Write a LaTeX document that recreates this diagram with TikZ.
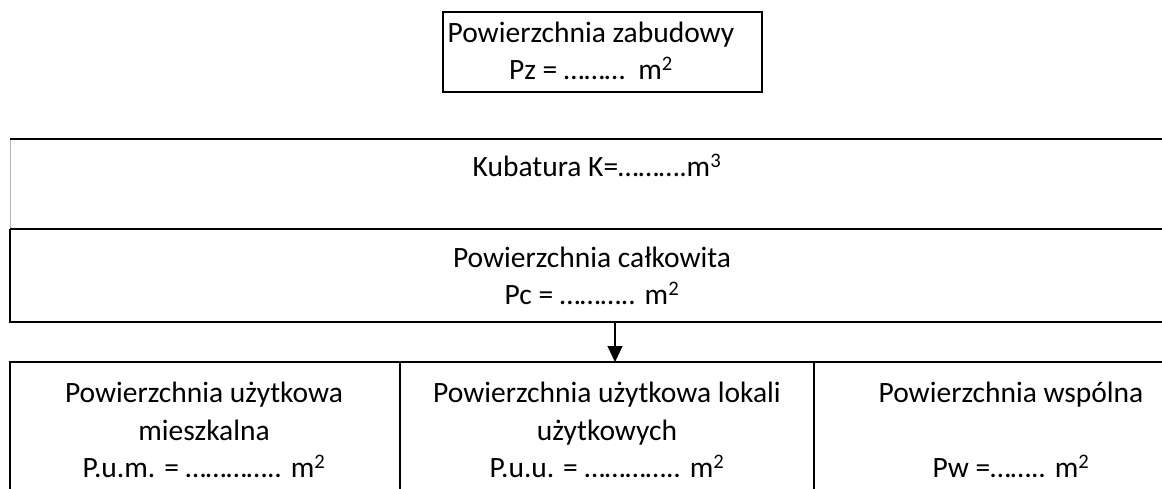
\documentclass[tikz,border=0pt]{standalone}
\usepackage{fontspec}
\setmainfont{Carlito}
\usetikzlibrary{arrows.meta}
\newcommand\mkw{m\textsuperscript{2}}
\newcommand\msz{m\textsuperscript{3}}
\begin{document}
\begin{tikzpicture}[x=1pt,y=-1pt,
  txt/.style={align=center,inner sep=0pt,font=\fontsize{29.5}{37.5}\selectfont},
  gruba/.style={line width=2pt},
  cienka/.style={line width=1.5pt}]
\useasboundingbox (0,0) rectangle (1162,489);
% gorna ramka
\draw[cienka] (443,12) rectangle (762,92);
\node[txt] (zab) at (591,51) {Powierzchnia zabudowy\\Pz = ………\ \ \mkw};
% kubatura i powierzchnia calkowita
\draw[gray!60,line width=0.8pt] (10,139) -- (10,229);
\draw[gruba] (1162,139) -- (10,139);
\draw[gruba] (10,229) -- (1162,229);
\draw[gruba] (1162,322) -- (10,322) -- (10,229);
\node[txt] (kub) at (597,165) {Kubatura K=……….\msz};
\node[txt] (calk) at (592,276) {Powierzchnia całkowita\\Pc = ……….. \mkw};
% dolny wiersz
\draw[gruba] (10,489) -- (10,362) -- (1162,362);
\draw[gruba] (400,362) -- (400,489);
\draw[gruba] (814,362) -- (814,489);
\node[txt] (pum) at (204,430) {Powierzchnia użytkowa\\mieszkalna\\P.u.m. = ………….. \mkw};
\node[txt] (puu) at (607,430) {Powierzchnia użytkowa lokali\\użytkowych\\P.u.u. = ………….. \mkw};
\node[txt] (pw) at (1011,430) {Powierzchnia wspólna\\[37.5pt]Pw =…….. \mkw};
\coordinate (g) at (615,322);
\coordinate (d) at (615,362);
\draw[line width=1.2pt,-{Triangle[length=16pt,width=15pt]}] (g) -- (d);
\end{tikzpicture}
\end{document}
